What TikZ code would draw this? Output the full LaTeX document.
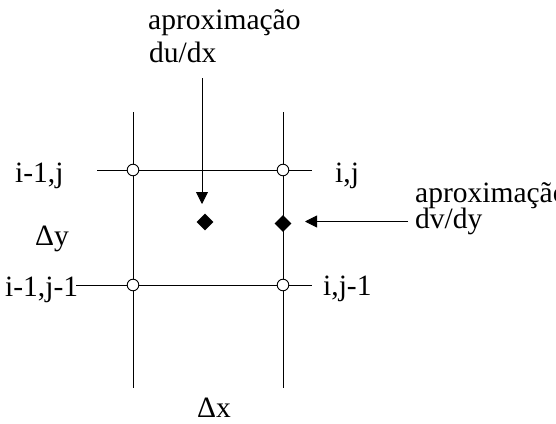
\documentclass[tikz,border=0pt]{standalone}
\usepackage{fontspec}
\setmainfont{Liberation Serif}
\usetikzlibrary{arrows.meta,shapes.geometric}
\begin{document}
\begin{tikzpicture}[x=1pt,y=-1pt,
  lbl/.style={anchor=base west,inner sep=0pt,font=\fontsize{29.5}{31}\selectfont},
  gridline/.style={line width=0.9pt,black},
  pt/.style={circle,draw=black,fill=white,line width=0.9pt,minimum size=11.6pt,inner sep=0pt},
  dia/.style={diamond,fill=black,inner sep=0pt,minimum width=17pt,minimum height=17pt},
  arr/.style={line width=0.9pt,-{Triangle[length=12pt,width=12pt]}}]
\clip (0,0) rectangle (556,423);
\fill[white] (0,0) rectangle (556,423);
% line end coordinates
\coordinate (lt) at (133,112); \coordinate (lb) at (133,388);
\coordinate (rt) at (283,112); \coordinate (rb) at (283,388);
\coordinate (tl) at (97,170);  \coordinate (tr) at (312,170);
\coordinate (bl) at (76,285);  \coordinate (br) at (312,285);
\draw[gridline] (lt) -- (lb);
\draw[gridline] (rt) -- (rb);
\draw[gridline] (tl) -- (tr);
\draw[gridline] (bl) -- (br);
% grid points
\node[pt] (p11) at (133,170) {};
\node[pt] (p21) at (283,170) {};
\node[pt] (p10) at (133,285) {};
\node[pt] (p20) at (283,285) {};
% approximation points
\node[dia] (d1) at (205,222) {};
\node[dia] (d2) at (283,223.5) {};
% arrows
\coordinate (a1s) at (202,78);
\coordinate (a1e) at (202,204);
\coordinate (a2s) at (408,221.5);
\coordinate (a2e) at (305,221.5);
\draw[arr] (a1s) -- (a1e);
\draw[arr] (a2s) -- (a2e);
% labels
\node[lbl] (t1) at (148,29) {aproximação};
\node[lbl] (t2) at (149,62) {du/dx};
\node[lbl] (r1) at (415,202) {aproximação};
\node[lbl] (r2) at (415,228) {dv/dy};
\node[lbl] (n11) at (15,182) {i-1,j};
\node[lbl] (n21) at (335,182) {i,j};
\node[lbl] (n10) at (5,296) {i-1,j-1};
\node[lbl] (n20) at (323,295) {i,j-1};
\node[lbl] (dy) at (35,245) {Δy};
\node[lbl] (dx) at (197,417) {Δx};
\end{tikzpicture}
\end{document}
